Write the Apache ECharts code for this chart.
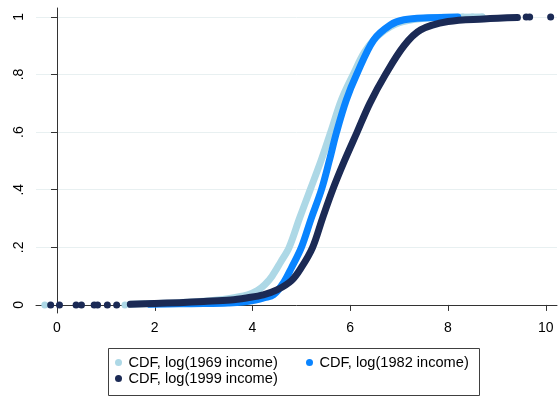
<!DOCTYPE html>
<html>
<head>
<meta charset="utf-8">
<script src="https://cdn.jsdelivr.net/npm/echarts@6/dist/echarts.min.js"></script>
<style>
  html, body { margin: 0; padding: 0; background: #fff; }
  #chart { width: 558px; height: 398px; }
</style>
</head>
<body>
<div id="chart"></div>
<script>
// series names
const names = ["CDF, log(1969 income)", "CDF, log(1982 income)", "CDF, log(1999 income)"];

// 1969: dense band of points
const x1969 = [1.5, 2.0, 2.5, 3.0, 3.5, 3.9, 4.1, 4.25, 4.4, 4.58, 4.75, 4.96, 5.18, 5.4, 5.6, 5.82, 6.06, 6.3, 6.6, 7.0, 7.5, 8.0, 8.7];
const y1969 = [0.002, 0.005, 0.008, 0.013, 0.022, 0.035, 0.05, 0.07, 0.1, 0.15, 0.2, 0.3, 0.4, 0.5, 0.6, 0.712, 0.8, 0.88, 0.94, 0.98, 0.995, 0.999, 1.0];
// isolated points in the tails
const tailX1969 = [-0.25, 1.39, 8.3, 8.5, 8.7];
const tailY1969 = [0, 0, 1, 1, 1];

// 1982
const x1982 = [1.9, 2.5, 3.0, 3.5, 3.8, 4.06, 4.25, 4.43, 4.63, 4.8, 5.0, 5.2, 5.41, 5.57, 5.72, 5.92, 6.13, 6.48, 6.82, 7.1, 7.6, 8.2];
const y1982 = [0.002, 0.004, 0.005, 0.007, 0.01, 0.017, 0.025, 0.035, 0.076, 0.13, 0.2, 0.3, 0.4, 0.5, 0.6, 0.712, 0.8, 0.92, 0.972, 0.99, 0.997, 1.0];

// 1999
const x1999 = [1.5, 2.0, 2.5, 3.0, 3.55, 3.9, 4.22, 4.5, 4.8, 5.0, 5.23, 5.43, 5.64, 5.88, 6.14, 6.4, 6.72, 7.1, 7.44, 8.0, 8.73, 9.42];
const y1999 = [0.002, 0.005, 0.008, 0.012, 0.017, 0.025, 0.035, 0.052, 0.085, 0.13, 0.2, 0.3, 0.4, 0.5, 0.6, 0.7, 0.8, 0.9, 0.955, 0.984, 0.993, 0.998];
const tailX1999 = [-0.13, 0.05, 0.39, 0.5, 0.76, 0.83, 1.03, 1.22, 9.6, 9.67, 10.1];
const tailY1999 = [0, 0, 0, 0, 0, 0, 0, 0, 1, 1, 1];

// axis ticks
const xTicks = [0, 2, 4, 6, 8, 10];
const yTicks = [0, 0.2, 0.4, 0.6, 0.8, 1];

const colors = ["#add8e6", "#0a84ff", "#1b2a55"];

function pairs(xs, ys) {
  return xs.map((x, i) => [x, ys[i]]);
}

function band(name, xs, ys, color) {
  return {
    name: name,
    type: "line",
    data: pairs(xs, ys),
    smooth: 0.35,
    showSymbol: false,
    symbol: "circle",
    itemStyle: { color: color },
    lineStyle: { color: color, width: 7, cap: "round", join: "round" },
    emphasis: { disabled: true },
    animation: false
  };
}

function dots(name, xs, ys, color) {
  return {
    name: name,
    type: "scatter",
    data: pairs(xs, ys),
    symbol: "circle",
    symbolSize: 7,
    itemStyle: { color: color, opacity: 1 },
    emphasis: { disabled: true },
    animation: false
  };
}

const font = "'Liberation Sans', Arial, sans-serif";

function legendAt(name, left, top) {
  return {
    data: [name],
    left: left,
    top: top,
    padding: 0,
    icon: "circle",
    itemWidth: 8,
    itemHeight: 7,
    itemGap: 0,
    lineStyle: { width: 0 },
    selectedMode: false,
    textStyle: { fontSize: 14.6, color: "#000", fontFamily: font, padding: [0, 0, 0, 1] }
  };
}

const chart = echarts.init(document.getElementById("chart"));
chart.setOption({
  animation: false,
  backgroundColor: "#fff",
  grid: { left: 36, right: 1, top: 8, bottom: 85 },
  xAxis: {
    type: "value",
    min: -0.43,
    max: 10.23,
    axisLine: { show: true, lineStyle: { color: "#333", width: 1 } },
    axisTick: { show: true, length: 6, customValues: xTicks, lineStyle: { color: "#333" } },
    axisLabel: { customValues: xTicks, margin: 8, fontSize: 14, color: "#000", fontFamily: font },
    splitLine: { show: false }
  },
  yAxis: {
    type: "value",
    min: -0.028,
    max: 1.031,
    axisLine: { show: true, lineStyle: { color: "#333", width: 1 } },
    axisTick: { show: true, length: 6, customValues: yTicks, lineStyle: { color: "#333" } },
    axisLabel: {
      customValues: yTicks,
      rotate: 90,
      margin: 10,
      fontSize: 14,
      color: "#000",
      fontFamily: font,
      formatter: v => (v === 0 ? "0" : v === 1 ? "1" : String(v).replace(/^0/, ""))
    },
    splitLine: { show: true, lineStyle: { color: "#e8f0f1", width: 1 } }
  },
  legend: [
    legendAt(names[0], 115, 355),
    legendAt(names[1], 306, 355),
    legendAt(names[2], 115, 371)
  ],
  graphic: [{
    type: "rect",
    shape: { x: 108.5, y: 348.5, width: 371, height: 47 },
    style: { fill: "none", stroke: "#404040", lineWidth: 1 },
    silent: true
  }],
  series: [
    band(names[0], x1969, y1969, colors[0]),
    dots(names[0], tailX1969, tailY1969, colors[0]),
    band(names[1], x1982, y1982, colors[1]),
    band(names[2], x1999, y1999, colors[2]),
    dots(names[2], tailX1999, tailY1999, colors[2])
  ]
});
</script>
</body>
</html>
